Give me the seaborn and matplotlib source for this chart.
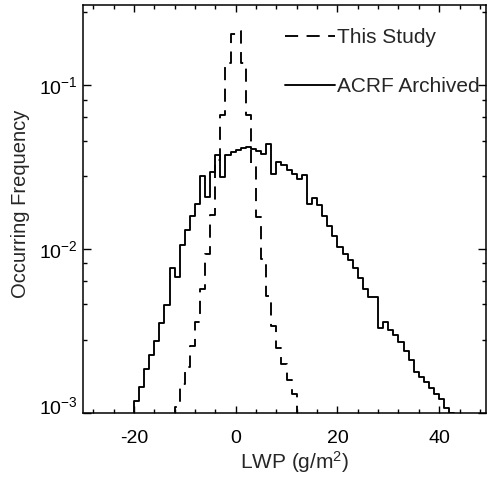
import numpy as np
import pandas as pd
import matplotlib
matplotlib.use("Agg")
import matplotlib.pyplot as plt
import matplotlib.ticker as mticker
import matplotlib.transforms as mtransforms
import seaborn as sns

# ---- data: occurring frequency per 1 g/m^2 LWP bin (left bin edges) ----
study_left_edges = list(range(-12, 12))
study_freq = [0.00109, 0.0015, 0.0019, 0.00258, 0.0036, 0.0057, 0.0094, 0.0161,
              0.035, 0.0656, 0.137, 0.205, 0.216, 0.137, 0.066, 0.033,
              0.0157, 0.0087, 0.0052, 0.0034, 0.0025, 0.0020, 0.0016, 0.0013]

acrf_left_edges = list(range(-20, 43))
acrf_freq = [0.00119, 0.00145, 0.00185, 0.00226, 0.00275, 0.00356, 0.00458, 0.00769, 0.00678, 0.0106,
             0.0131, 0.0159, 0.0188, 0.0280, 0.0207, 0.0295, 0.0374, 0.0275, 0.0374, 0.0392,
             0.0406, 0.0415, 0.0421, 0.0411, 0.0397, 0.0383, 0.0437, 0.0290, 0.0340, 0.0325,
             0.0303, 0.0286, 0.0270, 0.0282, 0.0190, 0.0205, 0.0185, 0.0160, 0.0138, 0.0120,
             0.0103, 0.0094, 0.0086, 0.0077, 0.0067, 0.0057, 0.0051, 0.0051, 0.0033, 0.0036,
             0.0032, 0.0030, 0.0027, 0.0024, 0.0021, 0.00178, 0.00166, 0.00155, 0.00143, 0.00131,
             0.00121, 0.00107, 0.00100]

series_labels = ["This Study", "ACRF Archived"]
x_ticks = [-20, 0, 20, 40]
y_ticks = [1e-3, 1e-2, 1e-1]
x_label = "LWP (g/m$^2$)"
y_label = "Occurring Frequency"


def hist_frame(left_edges, freq):
    """Bins with an empty bin on each side so the outline drops to the axis."""
    left = np.asarray(left_edges, dtype=float)
    w = np.asarray(freq, dtype=float)
    lefts = np.concatenate([[left[0] - 1], left, [left[-1] + 1]])
    weights = np.concatenate([[0.0], w, [0.0]])
    edges = np.append(lefts, lefts[-1] + 1)
    return pd.DataFrame({"lwp": lefts + 0.5, "freq": weights}), edges.tolist()


sns.set_style("ticks")
plt.rcParams["font.family"] = ["Liberation Sans", "DejaVu Sans"]
plt.rcParams["mathtext.fontset"] = "custom"
plt.rcParams["mathtext.rm"] = "Liberation Sans"
plt.rcParams["mathtext.it"] = "Liberation Sans:italic"
plt.rcParams["mathtext.bf"] = "Liberation Sans:bold"
plt.rcParams["axes.unicode_minus"] = False

fig = plt.figure(figsize=(4.87, 4.82), dpi=100)
ax = fig.add_axes([83 / 487, 1 - 413 / 482, 403 / 487, 408 / 482])

df_s, edges_s = hist_frame(study_left_edges, study_freq)
df_a, edges_a = hist_frame(acrf_left_edges, acrf_freq)

sns.histplot(data=df_s, x="lwp", weights="freq", bins=edges_s, element="step",
             fill=False, color="black", linewidth=1.35, linestyle=(0, (7, 4.5)),
             label=series_labels[0], ax=ax)
sns.histplot(data=df_a, x="lwp", weights="freq", bins=edges_a, element="step",
             fill=False, color="black", linewidth=1.35,
             label=series_labels[1], ax=ax)

ax.set_yscale("log")
ax.set_xlim(-30, 49.2)
ax.set_ylim(1e-3, 0.31)

ax.xaxis.set_major_locator(mticker.FixedLocator(x_ticks))
ax.xaxis.set_minor_locator(mticker.MultipleLocator(4))
ax.yaxis.set_major_locator(mticker.FixedLocator(y_ticks))
ax.yaxis.set_major_formatter(mticker.LogFormatterSciNotation())
minor_y = [d * (1 + 1.8 * k) for d in (1e-3, 1e-2, 1e-1) for k in range(1, 5)]
ax.yaxis.set_minor_locator(mticker.FixedLocator(minor_y))
ax.yaxis.set_minor_formatter(mticker.NullFormatter())

ax.tick_params(which="both", direction="in", top=True, right=True, color="black",
               labelcolor="black", width=1.0)
ax.tick_params(axis="x", which="major", length=5, pad=12, labelsize=14)
ax.tick_params(axis="x", which="minor", length=3)
ax.tick_params(axis="y", which="major", length=5.5, pad=4, labelsize=14)
ax.tick_params(axis="y", which="minor", length=3)

for s in ax.spines.values():
    s.set_linewidth(1.1)
    s.set_color("black")

ax.set_xlabel(x_label, fontsize=15)
ax.set_ylabel(y_label, fontsize=14.5)
ax.xaxis.set_label_coords(0.524, -0.088)
ax.yaxis.set_label_coords(-0.131, 0.512)

ax.legend(loc="upper left", bbox_to_anchor=(0.501, 0.944), frameon=False,
          fontsize=15, handlelength=2.4, handletextpad=0.1, labelspacing=1.45,
          borderpad=0, borderaxespad=0)

fig.canvas.draw()
for tick in ax.yaxis.get_major_ticks():
    if np.isclose(tick.get_loc(), 1e-3):
        lbl = tick.label1
        lbl.set_transform(lbl.get_transform() +
                          mtransforms.ScaledTranslation(0, 6 / 72, fig.dpi_scale_trans))

fig.savefig("out.png", dpi=100)
